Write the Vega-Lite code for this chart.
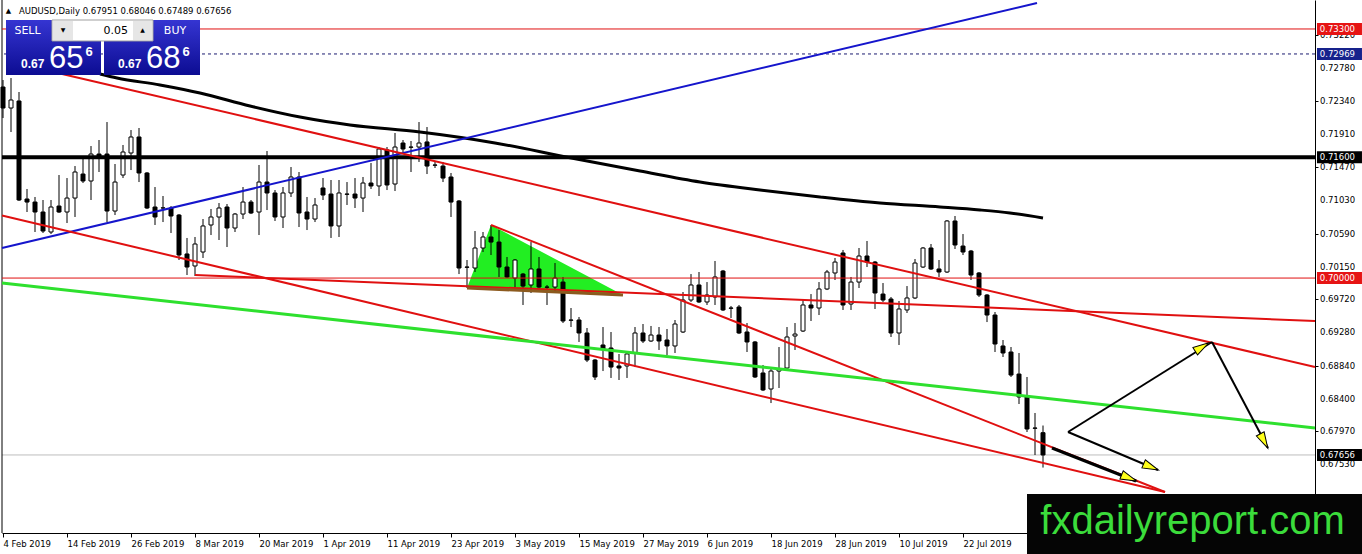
{
  "$schema": "https://vega.github.io/schema/vega-lite/v6.json",
  "width": 1313,
  "height": 533,
  "autosize": {"type": "none"},
  "padding": {"left": 2, "top": 0, "right": 47, "bottom": 21},
  "background": "white",
  "config": {"view": {"stroke": null}, "font": "DejaVu Sans", "axis": {"titleColor": "transparent", "labelOverlap": false}},
  "datasets": {
    "candles": [
      {"i":0,"d":"2019-02-04","o":0.72531,"h":0.72624,"l":0.7212,"c":0.72253},
      {"i":1,"d":"2019-02-05","o":0.72253,"h":0.7265,"l":0.71935,"c":0.72359},
      {"i":2,"d":"2019-02-06","o":0.72346,"h":0.72465,"l":0.71021,"c":0.71034},
      {"i":3,"d":"2019-02-07","o":0.71047,"h":0.7118,"l":0.70875,"c":0.71007},
      {"i":4,"d":"2019-02-08","o":0.71007,"h":0.71074,"l":0.7061,"c":0.70875},
      {"i":5,"d":"2019-02-11","o":0.70875,"h":0.71034,"l":0.70597,"c":0.70623},
      {"i":6,"d":"2019-02-12","o":0.7061,"h":0.71034,"l":0.70583,"c":0.70941},
      {"i":7,"d":"2019-02-13","o":0.70954,"h":0.71365,"l":0.70862,"c":0.70875},
      {"i":8,"d":"2019-02-14","o":0.70875,"h":0.71325,"l":0.70729,"c":0.7106},
      {"i":9,"d":"2019-02-15","o":0.7106,"h":0.71484,"l":0.70809,"c":0.71405},
      {"i":10,"d":"2019-02-18","o":0.71378,"h":0.7159,"l":0.71259,"c":0.71286},
      {"i":11,"d":"2019-02-19","o":0.71286,"h":0.71749,"l":0.71034,"c":0.71643},
      {"i":12,"d":"2019-02-20","o":0.71643,"h":0.71829,"l":0.71405,"c":0.71604},
      {"i":13,"d":"2019-02-21","o":0.71643,"h":0.72067,"l":0.70742,"c":0.70888},
      {"i":14,"d":"2019-02-22","o":0.70888,"h":0.71511,"l":0.70835,"c":0.71272},
      {"i":15,"d":"2019-02-25","o":0.71365,"h":0.71763,"l":0.71325,"c":0.7167},
      {"i":16,"d":"2019-02-26","o":0.71657,"h":0.71961,"l":0.71431,"c":0.71869},
      {"i":17,"d":"2019-02-27","o":0.71869,"h":0.71988,"l":0.71272,"c":0.71392},
      {"i":18,"d":"2019-02-28","o":0.71392,"h":0.71405,"l":0.70915,"c":0.70928},
      {"i":19,"d":"2019-03-01","o":0.70941,"h":0.71206,"l":0.70703,"c":0.70809},
      {"i":20,"d":"2019-03-04","o":0.70928,"h":0.71087,"l":0.70742,"c":0.7093},
      {"i":21,"d":"2019-03-05","o":0.70928,"h":0.70954,"l":0.70597,"c":0.70822},
      {"i":22,"d":"2019-03-06","o":0.70835,"h":0.70848,"l":0.70239,"c":0.70305},
      {"i":23,"d":"2019-03-07","o":0.70319,"h":0.70531,"l":0.7004,"c":0.70146},
      {"i":24,"d":"2019-03-08","o":0.7016,"h":0.70544,"l":0.70027,"c":0.70451},
      {"i":25,"d":"2019-03-11","o":0.70345,"h":0.70782,"l":0.70266,"c":0.7069},
      {"i":26,"d":"2019-03-12","o":0.70703,"h":0.70915,"l":0.7057,"c":0.70809},
      {"i":27,"d":"2019-03-13","o":0.70809,"h":0.70994,"l":0.70504,"c":0.70928},
      {"i":28,"d":"2019-03-14","o":0.70941,"h":0.70981,"l":0.70411,"c":0.70663},
      {"i":29,"d":"2019-03-15","o":0.70663,"h":0.70862,"l":0.7061,"c":0.70848},
      {"i":30,"d":"2019-03-18","o":0.70848,"h":0.71206,"l":0.70782,"c":0.71007},
      {"i":31,"d":"2019-03-19","o":0.71007,"h":0.71034,"l":0.70848,"c":0.70862},
      {"i":32,"d":"2019-03-20","o":0.70875,"h":0.71498,"l":0.7057,"c":0.71272},
      {"i":33,"d":"2019-03-21","o":0.71272,"h":0.71683,"l":0.70901,"c":0.71127},
      {"i":34,"d":"2019-03-22","o":0.71127,"h":0.71166,"l":0.70756,"c":0.70809},
      {"i":35,"d":"2019-03-25","o":0.70809,"h":0.71206,"l":0.70663,"c":0.71127},
      {"i":36,"d":"2019-03-26","o":0.71127,"h":0.71471,"l":0.71074,"c":0.71339},
      {"i":37,"d":"2019-03-27","o":0.71339,"h":0.71405,"l":0.70676,"c":0.70862},
      {"i":38,"d":"2019-03-28","o":0.70875,"h":0.71074,"l":0.70636,"c":0.70782},
      {"i":39,"d":"2019-03-29","o":0.70782,"h":0.7106,"l":0.70742,"c":0.70968},
      {"i":40,"d":"2019-04-01","o":0.71193,"h":0.71325,"l":0.71034,"c":0.711},
      {"i":41,"d":"2019-04-02","o":0.71113,"h":0.71299,"l":0.70531,"c":0.7069},
      {"i":42,"d":"2019-04-03","o":0.7069,"h":0.71299,"l":0.70544,"c":0.71127},
      {"i":43,"d":"2019-04-04","o":0.71113,"h":0.71272,"l":0.70968,"c":0.7111},
      {"i":44,"d":"2019-04-05","o":0.71113,"h":0.71325,"l":0.70928,"c":0.7106},
      {"i":45,"d":"2019-04-08","o":0.7106,"h":0.71339,"l":0.70875,"c":0.71259},
      {"i":46,"d":"2019-04-09","o":0.71259,"h":0.71524,"l":0.7118,"c":0.7122},
      {"i":47,"d":"2019-04-10","o":0.7122,"h":0.71736,"l":0.71087,"c":0.7171},
      {"i":48,"d":"2019-04-11","o":0.71697,"h":0.71736,"l":0.71166,"c":0.71233},
      {"i":49,"d":"2019-04-12","o":0.71246,"h":0.71922,"l":0.71153,"c":0.71736},
      {"i":50,"d":"2019-04-15","o":0.71789,"h":0.71829,"l":0.71657,"c":0.7171},
      {"i":51,"d":"2019-04-16","o":0.71736,"h":0.71816,"l":0.71405,"c":0.71733},
      {"i":52,"d":"2019-04-17","o":0.71736,"h":0.72067,"l":0.71538,"c":0.71789},
      {"i":53,"d":"2019-04-18","o":0.71803,"h":0.72001,"l":0.71378,"c":0.71484},
      {"i":54,"d":"2019-04-19","o":0.71498,"h":0.71538,"l":0.71458,"c":0.71495},
      {"i":55,"d":"2019-04-22","o":0.71484,"h":0.71538,"l":0.71272,"c":0.71325},
      {"i":56,"d":"2019-04-23","o":0.71339,"h":0.71392,"l":0.70809,"c":0.71007},
      {"i":57,"d":"2019-04-24","o":0.71021,"h":0.71034,"l":0.70053,"c":0.70133},
      {"i":58,"d":"2019-04-25","o":0.70146,"h":0.70239,"l":0.69868,"c":0.70143},
      {"i":59,"d":"2019-04-26","o":0.70133,"h":0.70623,"l":0.7008,"c":0.70398},
      {"i":60,"d":"2019-04-29","o":0.70398,"h":0.7061,"l":0.70345,"c":0.70544},
      {"i":61,"d":"2019-04-30","o":0.70544,"h":0.70703,"l":0.70305,"c":0.70477},
      {"i":62,"d":"2019-05-01","o":0.70477,"h":0.70636,"l":0.70014,"c":0.70146},
      {"i":63,"d":"2019-05-02","o":0.70146,"h":0.70279,"l":0.7,"c":0.70014},
      {"i":64,"d":"2019-05-03","o":0.7,"h":0.70252,"l":0.69881,"c":0.70239},
      {"i":65,"d":"2019-05-06","o":0.70053,"h":0.70067,"l":0.69643,"c":0.69894},
      {"i":66,"d":"2019-05-07","o":0.69908,"h":0.70477,"l":0.69802,"c":0.7012},
      {"i":67,"d":"2019-05-08","o":0.7012,"h":0.70279,"l":0.69815,"c":0.69881},
      {"i":68,"d":"2019-05-09","o":0.69881,"h":0.69908,"l":0.69643,"c":0.69878},
      {"i":69,"d":"2019-05-10","o":0.69881,"h":0.70199,"l":0.69802,"c":0.7},
      {"i":70,"d":"2019-05-13","o":0.69947,"h":0.70014,"l":0.69404,"c":0.69431},
      {"i":71,"d":"2019-05-14","o":0.69444,"h":0.69603,"l":0.69351,"c":0.69441},
      {"i":72,"d":"2019-05-15","o":0.69444,"h":0.69484,"l":0.69153,"c":0.69272},
      {"i":73,"d":"2019-05-16","o":0.69272,"h":0.69338,"l":0.68887,"c":0.68914},
      {"i":74,"d":"2019-05-17","o":0.68914,"h":0.68927,"l":0.68649,"c":0.68689},
      {"i":75,"d":"2019-05-20","o":0.69113,"h":0.69351,"l":0.68768,"c":0.6906},
      {"i":76,"d":"2019-05-21","o":0.69073,"h":0.69285,"l":0.68676,"c":0.68821},
      {"i":77,"d":"2019-05-22","o":0.68835,"h":0.68994,"l":0.68649,"c":0.68808},
      {"i":78,"d":"2019-05-23","o":0.68835,"h":0.69007,"l":0.68676,"c":0.68994},
      {"i":79,"d":"2019-05-24","o":0.69007,"h":0.69351,"l":0.68821,"c":0.69272},
      {"i":80,"d":"2019-05-27","o":0.69272,"h":0.69391,"l":0.69139,"c":0.69166},
      {"i":81,"d":"2019-05-28","o":0.69166,"h":0.69365,"l":0.69153,"c":0.69245},
      {"i":82,"d":"2019-05-29","o":0.69245,"h":0.69351,"l":0.69047,"c":0.69166},
      {"i":83,"d":"2019-05-30","o":0.69179,"h":0.69325,"l":0.6898,"c":0.691},
      {"i":84,"d":"2019-05-31","o":0.691,"h":0.69444,"l":0.69007,"c":0.69391},
      {"i":85,"d":"2019-06-03","o":0.69285,"h":0.69815,"l":0.69272,"c":0.69709},
      {"i":86,"d":"2019-06-04","o":0.69709,"h":0.70053,"l":0.69683,"c":0.69908},
      {"i":87,"d":"2019-06-05","o":0.69908,"h":0.7008,"l":0.69669,"c":0.69683},
      {"i":88,"d":"2019-06-06","o":0.69683,"h":0.69947,"l":0.69643,"c":0.69775},
      {"i":89,"d":"2019-06-07","o":0.69749,"h":0.70226,"l":0.69643,"c":0.70014},
      {"i":90,"d":"2019-06-10","o":0.70093,"h":0.70107,"l":0.69563,"c":0.69577},
      {"i":91,"d":"2019-06-11","o":0.69603,"h":0.6963,"l":0.69471,"c":0.696},
      {"i":92,"d":"2019-06-12","o":0.69616,"h":0.69643,"l":0.69258,"c":0.69272},
      {"i":93,"d":"2019-06-13","o":0.69285,"h":0.69404,"l":0.6902,"c":0.69153},
      {"i":94,"d":"2019-06-14","o":0.69153,"h":0.69166,"l":0.68676,"c":0.68689},
      {"i":95,"d":"2019-06-17","o":0.68742,"h":0.68848,"l":0.68503,"c":0.68517},
      {"i":96,"d":"2019-06-18","o":0.6853,"h":0.68808,"l":0.68344,"c":0.68768},
      {"i":97,"d":"2019-06-19","o":0.68768,"h":0.69086,"l":0.68543,"c":0.68795},
      {"i":98,"d":"2019-06-20","o":0.68808,"h":0.69351,"l":0.68795,"c":0.69219},
      {"i":99,"d":"2019-06-21","o":0.69232,"h":0.69404,"l":0.69047,"c":0.69258},
      {"i":100,"d":"2019-06-24","o":0.69298,"h":0.69709,"l":0.69285,"c":0.69643},
      {"i":101,"d":"2019-06-25","o":0.69643,"h":0.69788,"l":0.69431,"c":0.69603},
      {"i":102,"d":"2019-06-26","o":0.69603,"h":0.69947,"l":0.6951,"c":0.69855},
      {"i":103,"d":"2019-06-27","o":0.69855,"h":0.70107,"l":0.69841,"c":0.7008},
      {"i":104,"d":"2019-06-28","o":0.70067,"h":0.70266,"l":0.69974,"c":0.70212},
      {"i":105,"d":"2019-07-01","o":0.70332,"h":0.70372,"l":0.69577,"c":0.69643},
      {"i":106,"d":"2019-07-02","o":0.69656,"h":0.70014,"l":0.69577,"c":0.69947},
      {"i":107,"d":"2019-07-03","o":0.69947,"h":0.70398,"l":0.69868,"c":0.70292},
      {"i":108,"d":"2019-07-04","o":0.70292,"h":0.70491,"l":0.70146,"c":0.70212},
      {"i":109,"d":"2019-07-05","o":0.70212,"h":0.70226,"l":0.6959,"c":0.69802},
      {"i":110,"d":"2019-07-08","o":0.69788,"h":0.69934,"l":0.69683,"c":0.69709},
      {"i":111,"d":"2019-07-09","o":0.69722,"h":0.69749,"l":0.69219,"c":0.69272},
      {"i":112,"d":"2019-07-10","o":0.69272,"h":0.69696,"l":0.69113,"c":0.6959},
      {"i":113,"d":"2019-07-11","o":0.69577,"h":0.69894,"l":0.69537,"c":0.69736},
      {"i":114,"d":"2019-07-12","o":0.69736,"h":0.70252,"l":0.69722,"c":0.70199},
      {"i":115,"d":"2019-07-15","o":0.70146,"h":0.70411,"l":0.70133,"c":0.70398},
      {"i":116,"d":"2019-07-16","o":0.70398,"h":0.70451,"l":0.70107,"c":0.7012},
      {"i":117,"d":"2019-07-17","o":0.7012,"h":0.70239,"l":0.70014,"c":0.7008},
      {"i":118,"d":"2019-07-18","o":0.7008,"h":0.70769,"l":0.70067,"c":0.70756},
      {"i":119,"d":"2019-07-19","o":0.70756,"h":0.70822,"l":0.70385,"c":0.70438},
      {"i":120,"d":"2019-07-22","o":0.70424,"h":0.70583,"l":0.70305,"c":0.70345},
      {"i":121,"d":"2019-07-23","o":0.70358,"h":0.70372,"l":0.69974,"c":0.7004},
      {"i":122,"d":"2019-07-24","o":0.70067,"h":0.7008,"l":0.69749,"c":0.69775},
      {"i":123,"d":"2019-07-25","o":0.69775,"h":0.69788,"l":0.69417,"c":0.6951},
      {"i":124,"d":"2019-07-26","o":0.6951,"h":0.6955,"l":0.6902,"c":0.69126},
      {"i":125,"d":"2019-07-29","o":0.691,"h":0.69179,"l":0.68954,"c":0.69007},
      {"i":126,"d":"2019-07-30","o":0.6902,"h":0.69086,"l":0.68689,"c":0.68715},
      {"i":127,"d":"2019-07-31","o":0.68728,"h":0.69007,"l":0.68331,"c":0.68424},
      {"i":128,"d":"2019-08-01","o":0.68424,"h":0.68689,"l":0.6796,"c":0.68},
      {"i":129,"d":"2019-08-02","o":0.68013,"h":0.68212,"l":0.67655,"c":0.6801},
      {"i":130,"d":"2019-08-05","o":0.67951,"h":0.68046,"l":0.67489,"c":0.67656}
    ],
    "ma": [
      {"i":12.125,"p":0.72704},{"i":14.25,"p":0.72651},{"i":19.625,"p":0.72558},
      {"i":24.625,"p":0.72452},{"i":30.875,"p":0.7228},{"i":37.125,"p":0.72134},
      {"i":43.375,"p":0.72028},{"i":52.125,"p":0.71935},{"i":61.5,"p":0.7179},
      {"i":70.375,"p":0.71604},{"i":79.625,"p":0.71418},{"i":87.125,"p":0.71273},
      {"i":94.625,"p":0.71167},{"i":102.125,"p":0.71074},{"i":109.625,"p":0.70994},
      {"i":117.125,"p":0.70942},{"i":122.125,"p":0.70902},{"i":125.875,"p":0.70862},
      {"i":130,"p":0.70796}
    ],
    "levels": [
      {"name":"resistance","p":0.733},
      {"name":"ask","p":0.72969},
      {"name":"pivot","p":0.716},
      {"name":"support","p":0.7},
      {"name":"bid","p":0.67656}
    ],
    "yticks": [
      {"p":0.7322},{"p":0.7278},{"p":0.7234},{"p":0.7191},{"p":0.7147},
      {"p":0.7103},{"p":0.7059},{"p":0.7015},{"p":0.6972},{"p":0.6928},
      {"p":0.6884},{"p":0.684},{"p":0.6797},{"p":0.6753},{"p":0.6709}
    ],
    "trend": [
      {"line":"blue","i":-0.125,"p":0.70398},{"line":"blue","i":129.25,"p":0.73645},
      {"line":"a","i":7.125,"p":0.7271},{"line":"a","i":164,"p":0.68822},
      {"line":"b","i":-0.125,"p":0.70829},{"line":"b","i":145.25,"p":0.67165},
      {"line":"c","i":61,"p":0.70703},{"line":"c","i":145.25,"p":0.67165},
      {"line":"d","i":24,"p":0.70041},{"line":"d","i":164,"p":0.69431},
      {"line":"green","i":-0.125,"p":0.69934},{"line":"green","i":164,"p":0.68013},
      {"line":"base","i":58,"p":0.69868},{"line":"base","i":77.5,"p":0.69776}
    ],
    "wedge": [
      {"i":58,"top":0.69868,"base":0.69868},
      {"i":61,"top":0.70703,"base":0.69854},
      {"i":77.5,"top":0.69776,"base":0.69776}
    ],
    "arrows": [
      {"arrow":"a1","i":133.125,"p":0.6796},{"arrow":"a1","i":151.125,"p":0.69153},
      {"arrow":"a2","i":151.125,"p":0.69153},{"arrow":"a2","i":158.125,"p":0.67748},
      {"arrow":"a3","i":133.125,"p":0.6796},{"arrow":"a3","i":144.375,"p":0.67457},
      {"arrow":"a4","i":131.125,"p":0.67748},{"arrow":"a4","i":141.625,"p":0.67311}
    ],
    "heads": [
      {"arrow":"a1","i":149.875,"p":0.69087,"dir":58},
      {"arrow":"a2","i":157.625,"p":0.67841,"dir":152},
      {"arrow":"a3","i":143.5,"p":0.67497,"dir":113},
      {"arrow":"a4","i":140.75,"p":0.67351,"dir":112}
    ]
  },
  "layer": [
    {
      "data": {"name": "wedge"},
      "mark": {"type": "area", "color": "#22ee22", "opacity": 1},
      "encoding": {
        "x": {
          "field": "i", "type": "quantitative", "title": null,
          "scale": {"domain": [-0.125, 164], "nice": false, "zero": false, "padding": 0},
          "axis": {
            "orient": "bottom", "grid": false,
            "values": [0, 8, 16, 24, 32, 40, 48, 56, 64, 72, 80, 88, 96, 104, 112, 120],
            "labelExpr": "utcFormat(utc(2019, 1, 4 + floor(datum.value / 5) * 7 + datum.value % 5), '%-d %b %Y')",
            "labelAlign": "left", "labelPadding": 2, "tickSize": 4,
            "tickColor": "black", "domainColor": "black", "labelColor": "black",
            "labelFont": "DejaVu Sans", "labelFontSize": 8.5,
            "labelOverlap": false, "labelFlush": false, "labelBound": false
          }
        },
        "y": {
          "field": "top", "type": "quantitative", "title": null,
          "scale": {"domain": [0.66622, 0.73684], "nice": false, "zero": false, "padding": 0},
          "axis": {
            "orient": "right", "grid": false, "labels": false,
            "values": [0.7322, 0.7278, 0.7234, 0.7191, 0.7147, 0.7103, 0.7059, 0.7015, 0.6972, 0.6928, 0.6884, 0.684, 0.6797, 0.6753, 0.6709],
            "tickSize": 3, "tickColor": "black", "domainColor": "black"
          }
        },
        "y2": {"field": "base"}
      }
    },
    {
      "data": {"name": "levels"},
      "transform": [{"filter": "datum.name == 'bid'"}],
      "mark": {"type": "rule", "color": "#bdbdbd", "strokeWidth": 1},
      "encoding": {"y": {"field": "p", "type": "quantitative", "title": null}}
    },
    {
      "data": {"values": [{}]},
      "mark": {"type": "rule", "color": "black", "strokeWidth": 1},
      "encoding": {"x": {"datum": -0.125, "type": "quantitative", "title": null}}
    },
    {
      "data": {"name": "candles"},
      "mark": {"type": "rule", "color": "black", "strokeWidth": 1},
      "encoding": {
        "x": {"field": "i", "type": "quantitative", "title": null},
        "y": {"field": "l", "type": "quantitative", "title": null},
        "y2": {"field": "h"}
      }
    },
    {
      "data": {"name": "candles"},
      "mark": {"type": "bar", "width": 4, "stroke": "black", "strokeWidth": 1},
      "encoding": {
        "x": {"field": "i", "type": "quantitative", "title": null, "scale": {"padding": 0}},
        "y": {"field": "o", "type": "quantitative", "title": null},
        "y2": {"field": "c"},
        "fill": {"condition": {"test": "datum.c >= datum.o", "value": "white"}, "value": "black"}
      }
    },
    {
      "data": {"name": "levels"},
      "transform": [{"filter": "datum.name == 'resistance' || datum.name == 'support'"}],
      "mark": {"type": "rule", "color": "#e01010", "strokeWidth": 1},
      "encoding": {"y": {"field": "p", "type": "quantitative", "title": null}}
    },
    {
      "data": {"name": "levels"},
      "transform": [{"filter": "datum.name == 'ask'"}],
      "mark": {"type": "rule", "color": "#1c1c70", "strokeWidth": 1, "strokeDash": [3, 3]},
      "encoding": {"y": {"field": "p", "type": "quantitative", "title": null}}
    },
    {
      "data": {"name": "levels"},
      "transform": [{"filter": "datum.name == 'pivot'"}],
      "mark": {"type": "rule", "color": "black", "strokeWidth": 4},
      "encoding": {"y": {"field": "p", "type": "quantitative", "title": null}}
    },
    {
      "data": {"name": "ma"},
      "mark": {"type": "line", "color": "black", "strokeWidth": 3, "interpolate": "monotone"},
      "encoding": {
        "x": {"field": "i", "type": "quantitative", "title": null},
        "y": {"field": "p", "type": "quantitative", "title": null}
      }
    },
    {
      "data": {"name": "trend"},
      "transform": [{"filter": "datum.line == 'blue'"}],
      "mark": {"type": "line", "color": "#1515cc", "strokeWidth": 2},
      "encoding": {
        "x": {"field": "i", "type": "quantitative", "title": null},
        "y": {"field": "p", "type": "quantitative", "title": null}
      }
    },
    {
      "data": {"name": "trend"},
      "transform": [{"filter": "indexof(['a','b','c','d'], datum.line) >= 0"}],
      "mark": {"type": "line", "color": "#e01010", "strokeWidth": 2},
      "encoding": {
        "x": {"field": "i", "type": "quantitative", "title": null},
        "y": {"field": "p", "type": "quantitative", "title": null},
        "detail": {"field": "line"}
      }
    },
    {
      "data": {"name": "trend"},
      "transform": [{"filter": "datum.line == 'green'"}],
      "mark": {"type": "line", "color": "#2ee02e", "strokeWidth": 3},
      "encoding": {
        "x": {"field": "i", "type": "quantitative", "title": null},
        "y": {"field": "p", "type": "quantitative", "title": null}
      }
    },
    {
      "data": {"name": "trend"},
      "transform": [{"filter": "datum.line == 'base'"}],
      "mark": {"type": "line", "color": "#8c5a1e", "strokeWidth": 3},
      "encoding": {
        "x": {"field": "i", "type": "quantitative", "title": null},
        "y": {"field": "p", "type": "quantitative", "title": null}
      }
    },
    {
      "data": {"name": "arrows"},
      "transform": [{"filter": "datum.arrow != 'a4'"}],
      "mark": {"type": "line", "color": "black", "strokeWidth": 2},
      "encoding": {
        "x": {"field": "i", "type": "quantitative", "title": null},
        "y": {"field": "p", "type": "quantitative", "title": null},
        "detail": {"field": "arrow"}
      }
    },
    {
      "data": {"name": "arrows"},
      "transform": [{"filter": "datum.arrow == 'a4'"}],
      "mark": {"type": "line", "color": "black", "strokeWidth": 3},
      "encoding": {
        "x": {"field": "i", "type": "quantitative", "title": null},
        "y": {"field": "p", "type": "quantitative", "title": null}
      }
    },
    {
      "data": {"name": "heads"},
      "mark": {"type": "point", "shape": "M0,-1L0.55,1L-0.55,1Z", "size": 256, "filled": true, "fill": "#ffff1a", "stroke": "black", "strokeWidth": 1, "opacity": 1},
      "encoding": {
        "x": {"field": "i", "type": "quantitative", "title": null},
        "y": {"field": "p", "type": "quantitative", "title": null},
        "angle": {"field": "dir", "type": "quantitative", "scale": null}
      }
    },
    {
      "data": {"values": [{}]},
      "mark": {"type": "rect", "color": {"gradient": "linear", "x1": 0, "y1": 0, "x2": 0, "y2": 1, "stops": [{"offset": 0, "color": "#3535d2"}, {"offset": 1, "color": "#0c0c92"}]}},
      "encoding": {
        "x": {"datum": 0.375, "type": "quantitative", "title": null}, "x2": {"datum": 12.25},
        "y": {"datum": 0.73419, "type": "quantitative", "title": null}, "y2": {"datum": 0.7269}
      }
    },
    {
      "data": {"values": [{}]},
      "mark": {"type": "rect", "color": {"gradient": "linear", "x1": 0, "y1": 0, "x2": 0, "y2": 1, "stops": [{"offset": 0, "color": "#3535d2"}, {"offset": 1, "color": "#0c0c92"}]}},
      "encoding": {
        "x": {"datum": 12.625, "type": "quantitative", "title": null}, "x2": {"datum": 24.625},
        "y": {"datum": 0.73419, "type": "quantitative", "title": null}, "y2": {"datum": 0.7269}
      }
    },
    {
      "data": {"values": [{}]},
      "mark": {"type": "rect", "fill": "white", "stroke": "#a0a0a0", "strokeWidth": 1},
      "encoding": {
        "x": {"datum": 6.125, "type": "quantitative", "title": null}, "x2": {"datum": 18.75},
        "y": {"datum": 0.73419, "type": "quantitative", "title": null}, "y2": {"datum": 0.73141}
      }
    },
    {
      "data": {"values": [{}]},
      "mark": {"type": "rect", "fill": "#e6e6e6"},
      "encoding": {
        "x": {"datum": 6.25, "type": "quantitative", "title": null}, "x2": {"datum": 8.75},
        "y": {"datum": 0.73406, "type": "quantitative", "title": null}, "y2": {"datum": 0.73154}
      }
    },
    {
      "data": {"values": [{}]},
      "mark": {"type": "rect", "fill": "#e6e6e6"},
      "encoding": {
        "x": {"datum": 16.25, "type": "quantitative", "title": null}, "x2": {"datum": 18.625},
        "y": {"datum": 0.73406, "type": "quantitative", "title": null}, "y2": {"datum": 0.73154}
      }
    },
    {
      "data": {"values": [{}]},
      "mark": {"type": "text", "text": "▼", "color": "black", "fontSize": 6, "align": "center", "baseline": "middle"},
      "encoding": {
        "x": {"datum": 7.5, "type": "quantitative", "title": null},
        "y": {"datum": 0.7328, "type": "quantitative", "title": null}
      }
    },
    {
      "data": {"values": [{}]},
      "mark": {"type": "text", "text": "▲", "color": "black", "fontSize": 6, "align": "center", "baseline": "middle"},
      "encoding": {
        "x": {"datum": 17.44, "type": "quantitative", "title": null},
        "y": {"datum": 0.7328, "type": "quantitative", "title": null}
      }
    },
    {
      "data": {"values": [{}]},
      "mark": {"type": "text", "text": "0.05", "color": "black", "font": "DejaVu Sans", "fontSize": 11, "align": "right", "baseline": "middle"},
      "encoding": {
        "x": {"datum": 15.625, "type": "quantitative", "title": null},
        "y": {"datum": 0.73274, "type": "quantitative", "title": null}
      }
    },
    {
      "data": {"values": [{}]},
      "mark": {"type": "text", "text": "SELL", "color": "white", "font": "DejaVu Sans", "fontSize": 11, "align": "center", "baseline": "middle"},
      "encoding": {
        "x": {"datum": 3.0625, "type": "quantitative", "title": null},
        "y": {"datum": 0.73274, "type": "quantitative", "title": null}
      }
    },
    {
      "data": {"values": [{}]},
      "mark": {"type": "text", "text": "BUY", "color": "white", "font": "DejaVu Sans", "fontSize": 11, "align": "center", "baseline": "middle"},
      "encoding": {
        "x": {"datum": 21.5, "type": "quantitative", "title": null},
        "y": {"datum": 0.73274, "type": "quantitative", "title": null}
      }
    },
    {
      "data": {"values": [{}]},
      "mark": {"type": "text", "text": "0.67", "color": "white", "font": "Liberation Sans", "fontWeight": "bold", "fontSize": 12, "align": "left", "baseline": "alphabetic"},
      "encoding": {
        "x": {"datum": 2.25, "type": "quantitative", "title": null},
        "y": {"datum": 0.72783, "type": "quantitative", "title": null}
      }
    },
    {
      "data": {"values": [{}]},
      "mark": {"type": "text", "text": "65", "color": "white", "font": "Liberation Sans", "fontSize": 31, "align": "left", "baseline": "alphabetic"},
      "encoding": {
        "x": {"datum": 5.75, "type": "quantitative", "title": null},
        "y": {"datum": 0.72783, "type": "quantitative", "title": null}
      }
    },
    {
      "data": {"values": [{}]},
      "mark": {"type": "text", "text": "6", "color": "white", "font": "Liberation Sans", "fontWeight": "bold", "fontSize": 13, "align": "left", "baseline": "alphabetic"},
      "encoding": {
        "x": {"datum": 10.3, "type": "quantitative", "title": null},
        "y": {"datum": 0.72942, "type": "quantitative", "title": null}
      }
    },
    {
      "data": {"values": [{}]},
      "mark": {"type": "text", "text": "0.67", "color": "white", "font": "Liberation Sans", "fontWeight": "bold", "fontSize": 12, "align": "left", "baseline": "alphabetic"},
      "encoding": {
        "x": {"datum": 14.375, "type": "quantitative", "title": null},
        "y": {"datum": 0.72783, "type": "quantitative", "title": null}
      }
    },
    {
      "data": {"values": [{}]},
      "mark": {"type": "text", "text": "68", "color": "white", "font": "Liberation Sans", "fontSize": 31, "align": "left", "baseline": "alphabetic"},
      "encoding": {
        "x": {"datum": 17.875, "type": "quantitative", "title": null},
        "y": {"datum": 0.72783, "type": "quantitative", "title": null}
      }
    },
    {
      "data": {"values": [{}]},
      "mark": {"type": "text", "text": "6", "color": "white", "font": "Liberation Sans", "fontWeight": "bold", "fontSize": 13, "align": "left", "baseline": "alphabetic"},
      "encoding": {
        "x": {"datum": 22.45, "type": "quantitative", "title": null},
        "y": {"datum": 0.72942, "type": "quantitative", "title": null}
      }
    },
    {
      "data": {"values": [{}]},
      "mark": {"type": "text", "text": "▲", "color": "black", "fontSize": 7, "align": "center", "baseline": "middle"},
      "encoding": {
        "x": {"datum": 0.6875, "type": "quantitative", "title": null},
        "y": {"datum": 0.73538, "type": "quantitative", "title": null}
      }
    },
    {
      "data": {"values": [{}]},
      "mark": {"type": "text", "text": "AUDUSD,Daily  0.67951 0.68046 0.67489 0.67656", "color": "black", "font": "DejaVu Sans", "fontSize": 8.5, "align": "left", "baseline": "middle"},
      "encoding": {
        "x": {"datum": 2.0, "type": "quantitative", "title": null},
        "y": {"datum": 0.73538, "type": "quantitative", "title": null}
      }
    },
    {
      "data": {"name": "yticks"},
      "mark": {"type": "text", "color": "black", "font": "DejaVu Sans", "fontSize": 8.5, "align": "left", "baseline": "middle"},
      "encoding": {
        "x": {"datum": 164.625, "type": "quantitative", "title": null},
        "y": {"field": "p", "type": "quantitative", "title": null},
        "text": {"field": "p", "type": "quantitative", "format": ".5f"}
      }
    },
    {
      "data": {"name": "levels"},
      "mark": {"type": "point", "shape": "M-1,-0.27L1,-0.27L1,0.27L-1,0.27Z", "size": 2025, "filled": true, "opacity": 1, "strokeWidth": 0},
      "encoding": {
        "x": {"datum": 167.06, "type": "quantitative", "title": null},
        "y": {"field": "p", "type": "quantitative", "title": null},
        "color": {"field": "name", "type": "nominal", "legend": null,
          "scale": {"domain": ["resistance", "ask", "pivot", "support", "bid"], "range": ["#e61414", "#16228c", "#000000", "#e61414", "#000000"]}}
      }
    },
    {
      "data": {"name": "levels"},
      "mark": {"type": "text", "color": "white", "font": "DejaVu Sans", "fontSize": 8.5, "align": "left", "baseline": "middle"},
      "encoding": {
        "x": {"datum": 164.6, "type": "quantitative", "title": null},
        "y": {"field": "p", "type": "quantitative", "title": null},
        "text": {"field": "p", "type": "quantitative", "format": ".5f"}
      }
    },
    {
      "data": {"values": [{}]},
      "mark": {"type": "rect", "fill": "#050505"},
      "encoding": {
        "x": {"datum": 128, "type": "quantitative", "title": null}, "x2": {"datum": 169.875},
        "y": {"datum": 0.67139, "type": "quantitative", "title": null}, "y2": {"datum": 0.66344}
      }
    },
    {
      "data": {"values": [{}]},
      "mark": {"type": "text", "text": "fxdailyreport.com", "color": "#3bdc3b", "font": "Liberation Sans", "fontSize": 40, "align": "center", "baseline": "alphabetic"},
      "encoding": {
        "x": {"datum": 148.7, "type": "quantitative", "title": null},
        "y": {"datum": 0.66609, "type": "quantitative", "title": null}
      }
    }
  ]
}
